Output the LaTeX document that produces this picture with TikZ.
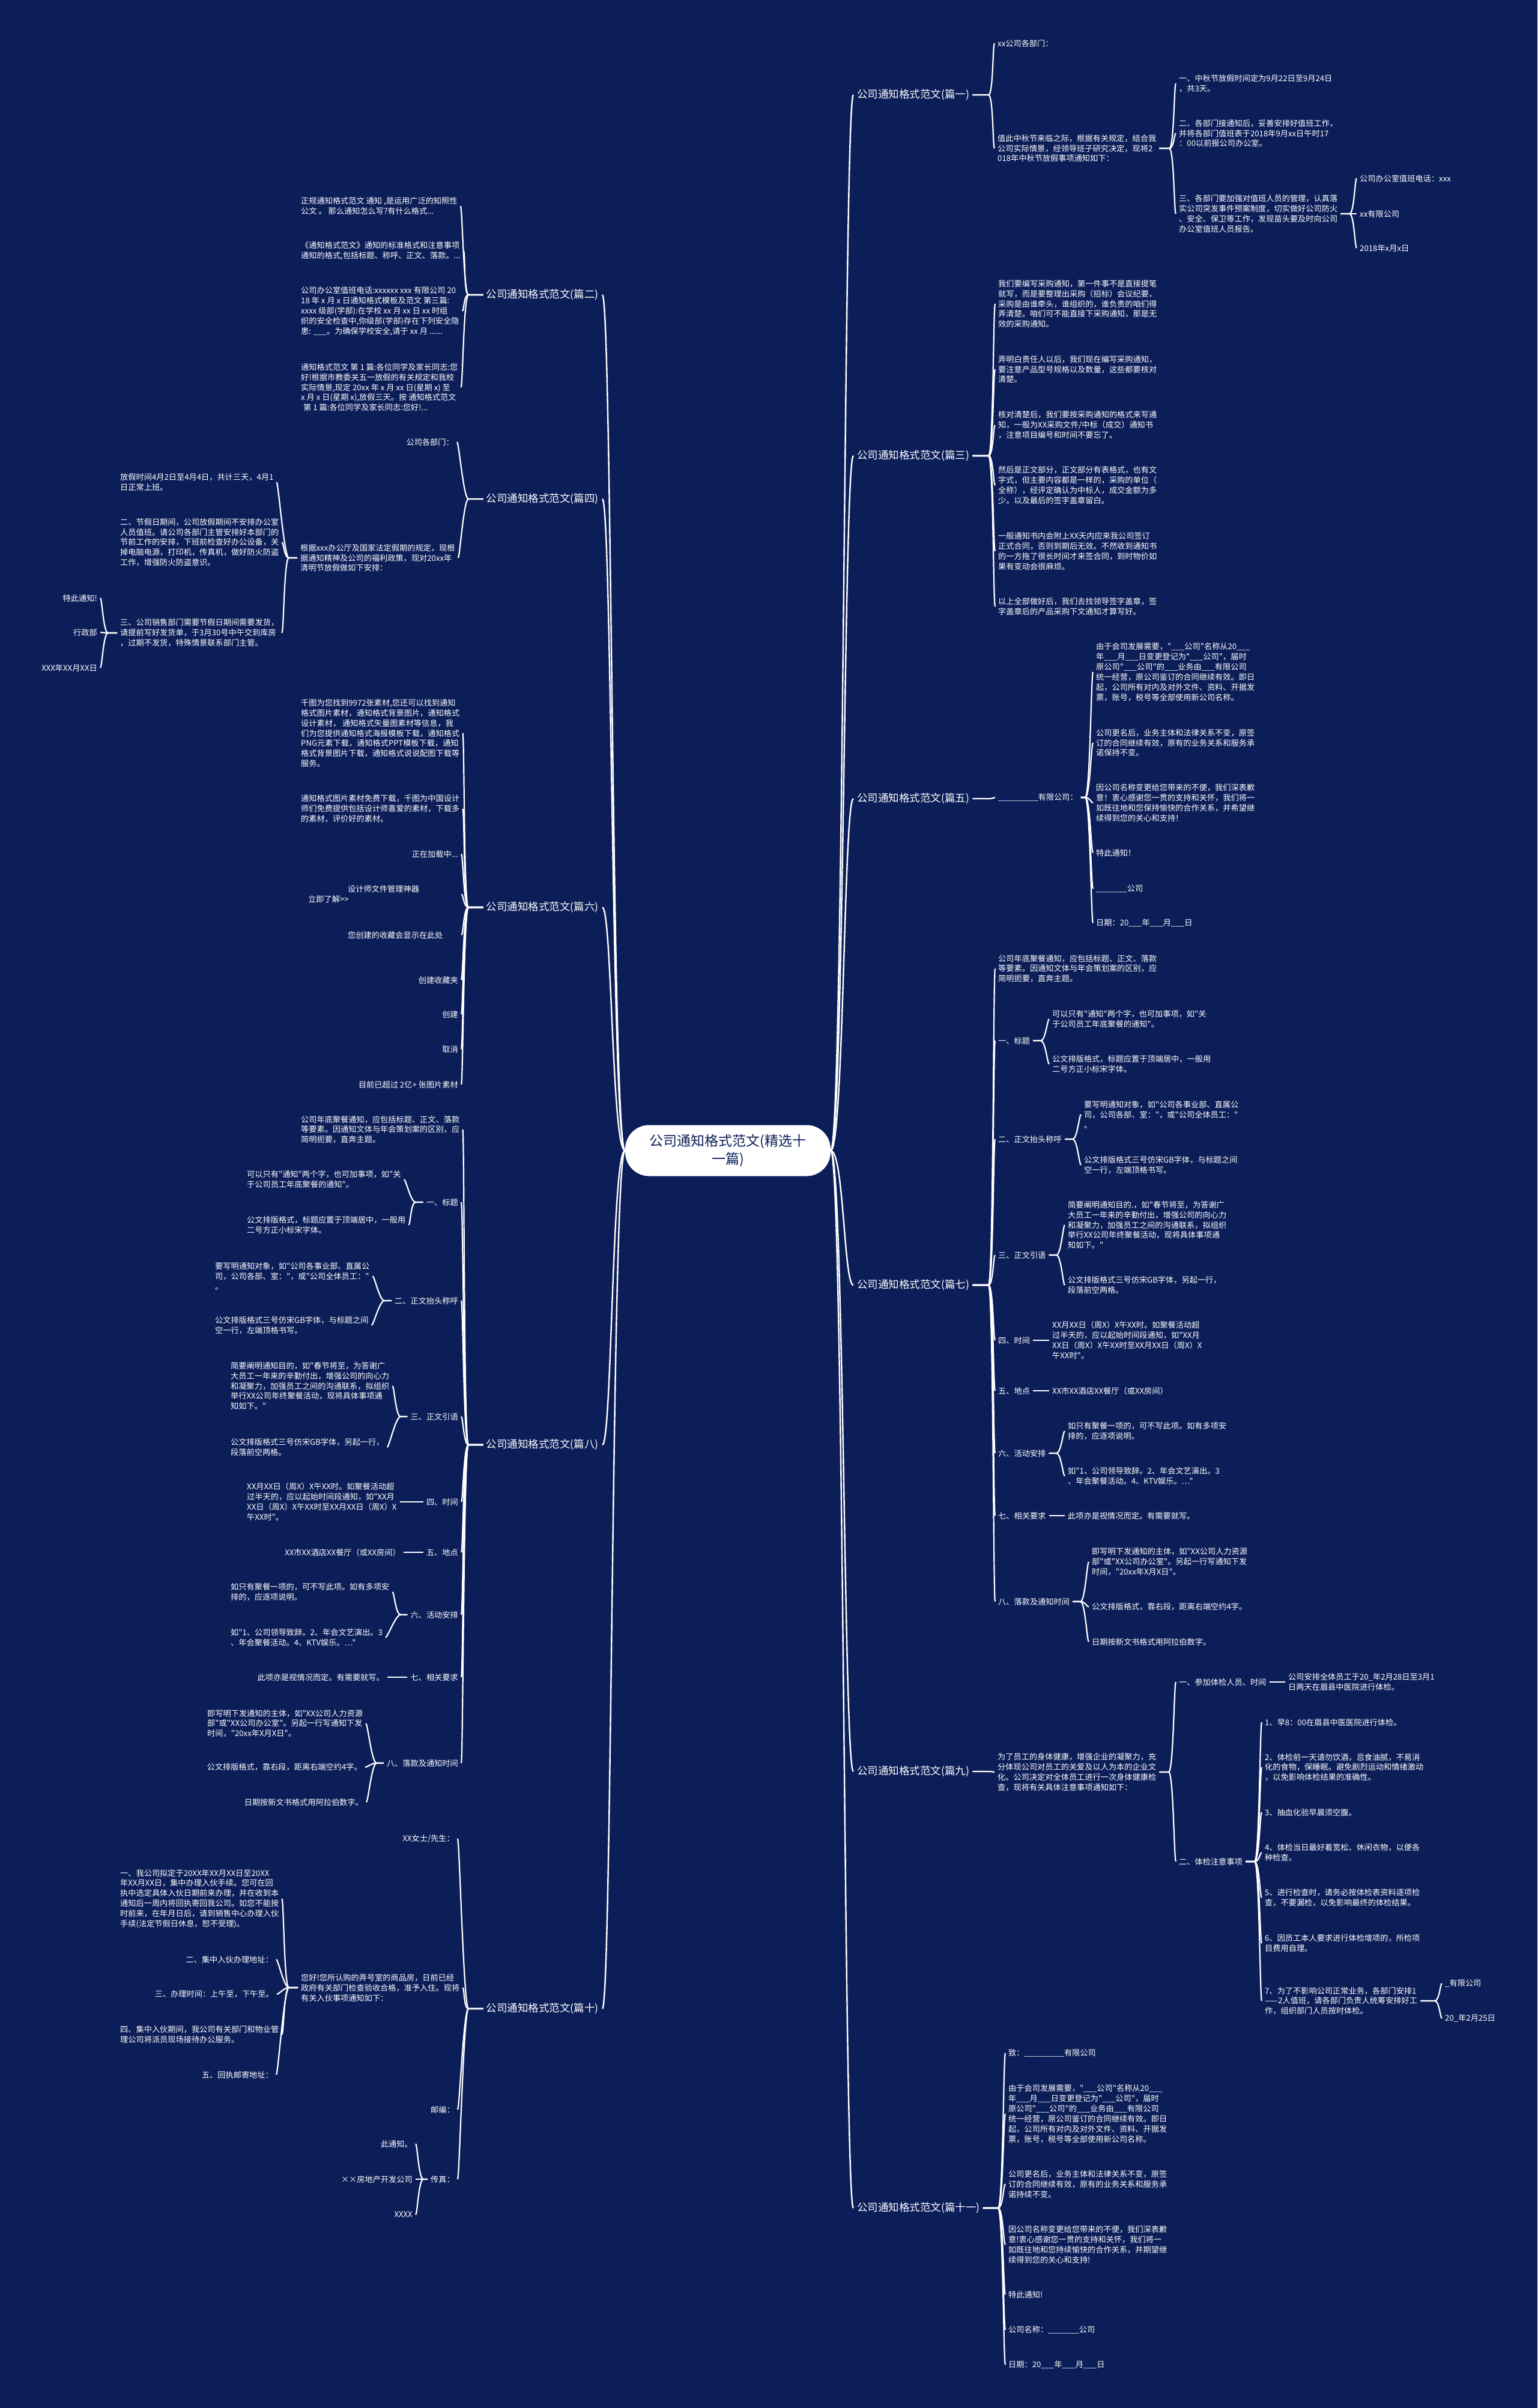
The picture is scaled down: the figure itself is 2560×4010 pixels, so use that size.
\documentclass[tikz,border=0pt]{standalone}
\usepackage{fontspec}
\newfontfamily\nf{Noto Sans CJK SC}
\definecolor{bgc}{RGB}{12,30,88}
\newcommand\rcon[3]{\draw[conn] (#1.east) -- (#1.east -| #3,0) .. controls +(8,0) and +(-8,0) .. (#2.west);}
\newcommand\lcon[3]{\draw[conn] (#1.west) -- (#1.west -| #3,0) .. controls +(-8,0) and +(8,0) .. (#2.east);}
\tikzset{
 txt/.style={font=\nf\fontsize{13.2}{16.9}\selectfont, text=white, inner sep=0pt, align=left},
 lbl/.style={font=\nf\fontsize{17.5}{21}\selectfont, text=white, inner sep=0pt},
 conn/.style={draw=white, line width=2.2pt, shorten <=5pt, shorten >=5pt},
 trunk/.style={draw=white, line width=2.4pt, shorten >=6pt},
 rootbox/.style={fill=white, text=bgc, rounded corners=40pt, minimum width=342pt, minimum height=85pt, align=center, inner sep=0pt, font=\nf\fontsize{23}{30}\selectfont}
}
\begin{document}
\begin{tikzpicture}[x=1pt,y=-1pt]
\fill[bgc] (0,0) rectangle (2560,4010);
\useasboundingbox (0,0) rectangle (2560,4010);

\node[rootbox] (root) at (1212,1916) {公司通知格式范文(精选十\\一篇)};

% ---------- right labels
\node[lbl,anchor=west] (s1) at (1427,158) {公司通知格式范文(篇一)};
\node[lbl,anchor=west] (s3) at (1427,759) {公司通知格式范文(篇三)};
\node[lbl,anchor=west] (s5) at (1427,1330) {公司通知格式范文(篇五)};
\node[lbl,anchor=west] (s7) at (1427,2140) {公司通知格式范文(篇七)};
\node[lbl,anchor=west] (s9) at (1427,2950) {公司通知格式范文(篇九)};
\node[lbl,anchor=west] (s11) at (1427,3677) {公司通知格式范文(篇十一)};
% ---------- left labels
\node[lbl,anchor=east] (s2) at (997,491) {公司通知格式范文(篇二)};
\node[lbl,anchor=east] (s4) at (997,831) {公司通知格式范文(篇四)};
\node[lbl,anchor=east] (s6) at (997,1511) {公司通知格式范文(篇六)};
\node[lbl,anchor=east] (s8) at (997,2406) {公司通知格式范文(篇八)};
\node[lbl,anchor=east] (s10) at (997,3345) {公司通知格式范文(篇十)};

\foreach \n in {s1,s3,s5,s7,s9,s11} \draw[trunk] (root.east) .. controls +(22,0) and +(-22,0) .. (\n.west);
\foreach \n in {s2,s4,s6,s8,s10} \draw[trunk] (root.west) .. controls +(-22,0) and +(22,0) .. (\n.east);

% ================= Section 1
\node[txt,anchor=west] (s1a) at (1661,72) {xx公司各部门：};
\node[txt,anchor=west] (s1b) at (1661,247) {值此中秋节来临之际，根据有关规定，结合我\\公司实际情景，经领导班子研究决定，现将2\\018年中秋节放假事项通知如下：};
\node[txt,anchor=west] (s1b1) at (1963,139) {一、中秋节放假时间定为9月22日至9月24日\\，共3天。};
\node[txt,anchor=west] (s1b2) at (1963,222) {二、各部门接通知后，妥善安排好值班工作，\\并将各部门值班表于2018年9月xx日午时17\\：00以前报公司办公室。};
\node[txt,anchor=west] (s1b3) at (1963,356) {三、各部门要加强对值班人员的管理，认真落\\实公司突发事件预案制度，切实做好公司防火\\、安全、保卫等工作，发现苗头要及时向公司\\办公室值班人员报告。};
\node[txt,anchor=west] (s1c1) at (2264,297) {公司办公室值班电话：xxx};
\node[txt,anchor=west] (s1c2) at (2264,356) {xx有限公司};
\node[txt,anchor=west] (s1c3) at (2264,413) {2018年x月x日};
\foreach \c in {s1a,s1b} {\rcon{s1}{\c}{1646}}
\foreach \c in {s1b1,s1b2,s1b3} {\rcon{s1b}{\c}{1947}}
\foreach \c in {s1c1,s1c2,s1c3} {\rcon{s1b3}{\c}{2247}}

% ================= Section 3
\node[txt,anchor=west] (s3a) at (1662,506) {我们要编写采购通知，第一件事不是直接提笔\\就写，而是要整理出采购（招标）会议纪要，\\采购是由谁牵头，谁组织的，谁负责的咱们得\\弄清楚。咱们可不能直接下采购通知，那是无\\效的采购通知。};
\node[txt,anchor=west] (s3b) at (1662,615) {弄明白责任人以后，我们现在编写采购通知，\\要注意产品型号规格以及数量，这些都要核对\\清楚。};
\node[txt,anchor=west] (s3c) at (1662,708) {核对清楚后，我们要按采购通知的格式来写通\\知，一般为XX采购文件/中标（成交）通知书\\，注意项目编号和时间不要忘了。};
\node[txt,anchor=west] (s3d) at (1662,808) {然后是正文部分，正文部分有表格式，也有文\\字式，但主要内容都是一样的，采购的单位（\\全称），经评定确认为中标人，成交金额为多\\少。以及最后的签字盖章留白。};
\node[txt,anchor=west] (s3e) at (1662,918) {一般通知书内会附上XX天内应来我公司签订\\正式合同，否则到期后无效。不然收到通知书\\的一方拖了很长时间才来签合同，到时物价如\\果有变动会很麻烦。};
\node[txt,anchor=west] (s3f) at (1662,1010) {以上全部做好后，我们去找领导签字盖章，签\\字盖章后的产品采购下文通知才算写好。};
\foreach \c in {s3a,s3b,s3c,s3d,s3e,s3f} {\rcon{s3}{\c}{1646}}

% ================= Section 5
\node[txt,anchor=west] (s5a) at (1662,1328) {\_\_\_\_\_\_\_\_\_有限公司：};
\node[txt,anchor=west] (s5b1) at (1825,1119) {由于会司发展需要，"\_\_\_公司"名称从20\_\_\_\\年\_\_\_月\_\_\_日变更登记为"\_\_\_公司"，届时\\原公司"\_\_\_公司"的\_\_\_业务由\_\_\_有限公司\\统一经营，原公司鉴订的合同继续有效。即日\\起，公司所有对内及对外文件、资料、开据发\\票，账号，税号等全部使用新公司名称。};
\node[txt,anchor=west] (s5b2) at (1825,1237) {公司更名后，业务主体和法律关系不变，原签\\订的合同继续有效，原有的业务关系和服务承\\诺保持不变。};
\node[txt,anchor=west] (s5b3) at (1825,1337) {因公司名称变更给您带来的不便，我们深表歉\\意！衷心感谢您一贯的支持和关怀，我们将一\\如既往地和您保持愉快的合作关系，并希望继\\续得到您的关心和支持！};
\node[txt,anchor=west] (s5b4) at (1825,1420) {特此通知！};
\node[txt,anchor=west] (s5b5) at (1825,1480) {\_\_\_\_\_\_\_公司};
\node[txt,anchor=west] (s5b6) at (1825,1537) {日期：20\_\_\_年\_\_\_月\_\_\_日};
\rcon{s5}{s5a}{1646}
\foreach \c in {s5b1,s5b2,s5b3,s5b4,s5b5,s5b6} {\rcon{s5a}{\c}{1807}}

% ================= Section 7
\node[txt,anchor=west] (s7a) at (1662,1613) {公司年底聚餐通知，应包括标题、正文、落款\\等要素。因通知文体与年会策划案的区别，应\\简明扼要，直奔主题。};
\node[txt,anchor=west] (s7b) at (1662,1733) {一、标题};
\node[txt,anchor=west] (s7b1) at (1752,1697) {可以只有"通知"两个字，也可加事项，如"关\\于公司员工年底聚餐的通知"。};
\node[txt,anchor=west] (s7b2) at (1752,1772) {公文排版格式，标题应置于顶端居中，一般用\\二号方正小标宋字体。};
\node[txt,anchor=west] (s7c) at (1662,1897) {二、正文抬头称呼};
\node[txt,anchor=west] (s7c1) at (1805,1856) {要写明通知对象，如"公司各事业部、直属公\\司，公司各部、室："，或"公司全体员工："\\。};
\node[txt,anchor=west] (s7c2) at (1805,1940) {公文排版格式三号仿宋GB字体，与标题之间\\空一行，左端顶格书写。};
\node[txt,anchor=west] (s7d) at (1662,2090) {三、正文引语};
\node[txt,anchor=west] (s7d1) at (1778,2040) {简要阐明通知目的.，如"春节将至，为答谢广\\大员工一年来的辛勤付出，增强公司的向心力\\和凝聚力，加强员工之间的沟通联系，拟组织\\举行XX公司年终聚餐活动，现将具体事项通\\知如下。"};
\node[txt,anchor=west] (s7d2) at (1778,2140) {公文排版格式三号仿宋GB字体，另起一行，\\段落前空两格。};
\node[txt,anchor=west] (s7e) at (1662,2232) {四、时间};
\node[txt,anchor=west] (s7e1) at (1752,2232) {XX月XX日（周X）X午XX时。如聚餐活动超\\过半天的，应以起始时间段通知，如"XX月\\XX日（周X）X午XX时至XX月XX日（周X）X\\午XX时"。};
\node[txt,anchor=west] (s7f) at (1662,2316) {五、地点};
\node[txt,anchor=west] (s7f1) at (1752,2316) {XX市XX酒店XX餐厅（或XX房间）};
\node[txt,anchor=west] (s7g) at (1662,2420) {六、活动安排};
\node[txt,anchor=west] (s7g1) at (1778,2383) {如只有聚餐一项的，可不写此项。如有多项安\\排的，应逐项说明。};
\node[txt,anchor=west] (s7g2) at (1778,2458) {如"1、公司领导致辞。2、年会文艺演出。3\\、年会聚餐活动。4、KTV娱乐。…"};
\node[txt,anchor=west] (s7h) at (1662,2524) {七、相关要求};
\node[txt,anchor=west] (s7h1) at (1778,2524) {此项亦是视情况而定。有需要就写。};
\node[txt,anchor=west] (s7i) at (1662,2667) {八、落款及通知时间};
\node[txt,anchor=west] (s7i1) at (1818,2601) {即写明下发通知的主体，如"XX公司人力资源\\部"或"XX公司办公室"。另起一行写通知下发\\时间，"20xx年X月X日"。};
\node[txt,anchor=west] (s7i2) at (1818,2676) {公文排版格式，靠右段，距离右端空约4字。};
\node[txt,anchor=west] (s7i3) at (1818,2734) {日期按新文书格式用阿拉伯数字。};
\foreach \c in {s7a,s7b,s7c,s7d,s7e,s7f,s7g,s7h,s7i} {\rcon{s7}{\c}{1646}}
\foreach \c in {s7b1,s7b2} {\rcon{s7b}{\c}{1733}}
\foreach \c in {s7c1,s7c2} {\rcon{s7c}{\c}{1786}}
\foreach \c in {s7d1,s7d2} {\rcon{s7d}{\c}{1759}}
\rcon{s7e}{s7e1}{1740}
\rcon{s7f}{s7f1}{1740}
\foreach \c in {s7g1,s7g2} {\rcon{s7g}{\c}{1759}}
\rcon{s7h}{s7h1}{1765}
\foreach \c in {s7i1,s7i2,s7i3} {\rcon{s7i}{\c}{1799}}

% ================= Section 9
\node[txt,anchor=west] (s9a) at (1661,2951) {为了员工的身体健康，增强企业的凝聚力，充\\分体现公司对员工的关爱及以人为本的企业文\\化。公司决定对全体员工进行一次身体健康检\\查，现将有关具体注意事项通知如下：};
\node[txt,anchor=west] (s9b) at (1963,2801) {一、参加体检人员、时间};
\node[txt,anchor=west] (s9b1) at (2145,2801) {公司安排全体员工于20\_年2月28日至3月1\\日两天在眉县中医院进行体检。};
\node[txt,anchor=west] (s9c) at (1963,3100) {二、体检注意事项};
\node[txt,anchor=west] (s9c1) at (2106,2868) {1、早8：00在眉县中医医院进行体检。};
\node[txt,anchor=west] (s9c2) at (2106,2943) {2、体检前一天请勿饮酒，忌食油腻，不易消\\化的食物，保睡眠。避免剧烈运动和情绪激动\\，以免影响体检结果的准确性。};
\node[txt,anchor=west] (s9c3) at (2106,3018) {3、抽血化验早晨须空腹。};
\node[txt,anchor=west] (s9c4) at (2106,3085) {4、体检当日最好着宽松、休闲衣物，以便各\\种检查。};
\node[txt,anchor=west] (s9c5) at (2106,3160) {5、进行检查时，请务必按体检表资料逐项检\\查，不要漏检，以免影响最终的体检结果。};
\node[txt,anchor=west] (s9c6) at (2106,3236) {6、因员工本人要求进行体检增项的，所检项\\目费用自理。};
\node[txt,anchor=west] (s9c7) at (2106,3332) {7、为了不影响公司正常业务，各部门安排1\\——2人值班，请各部门负责人统筹安排好工\\作，组织部门人员按时体检。};
\node[txt,anchor=west] (s9d1) at (2406,3303) {\_有限公司};
\node[txt,anchor=west] (s9d2) at (2406,3361) {20\_年2月25日};
\rcon{s9}{s9a}{1646}
\foreach \c in {s9b,s9c} {\rcon{s9a}{\c}{1946}}
\rcon{s9b}{s9b1}{2130}
\foreach \c in {s9c1,s9c2,s9c3,s9c4,s9c5,s9c6,s9c7} {\rcon{s9c}{\c}{2089}}
\foreach \c in {s9d1,s9d2} {\rcon{s9c7}{\c}{2389}}

% ================= Section 11
\node[txt,anchor=west] (s11a) at (1679,3419) {致：\_\_\_\_\_\_\_\_\_有限公司};
\node[txt,anchor=west] (s11b) at (1679,3520) {由于会司发展需要，"\_\_\_公司"名称从20\_\_\_\\年\_\_\_月\_\_\_日变更登记为"\_\_\_公司"，届时\\原公司"\_\_\_公司"的\_\_\_业务由\_\_\_有限公司\\统一经营，原公司鉴订的合同继续有效。即日\\起，公司所有对内及对外文件、资料、开据发\\票，账号，税号等全部使用新公司名称。};
\node[txt,anchor=west] (s11c) at (1679,3637) {公司更名后，业务主体和法律关系不变，原签\\订的合同继续有效，原有的业务关系和服务承\\诺持续不变。};
\node[txt,anchor=west] (s11d) at (1679,3738) {因公司名称变更给您带来的不便，我们深表歉\\意!衷心感谢您一贯的支持和关怀，我们将一\\如既往地和您持续愉快的合作关系，并期望继\\续得到您的关心和支持!};
\node[txt,anchor=west] (s11e) at (1679,3821) {特此通知!};
\node[txt,anchor=west] (s11f) at (1679,3880) {公司名称：\_\_\_\_\_\_\_公司};
\node[txt,anchor=west] (s11g) at (1679,3938) {日期：20\_\_\_年\_\_\_月\_\_\_日};
\foreach \c in {s11a,s11b,s11c,s11d,s11e,s11f,s11g} {\rcon{s11}{\c}{1662}}

% ================= Section 2
\node[txt,anchor=west] (s2a) at (501,343) {正规通知格式范文 通知 ,是运用广泛的知照性\\公文 。 那么通知怎么写?有什么格式...};
\node[txt,anchor=west] (s2b) at (501,418) {《通知格式范文》通知的标准格式和注意事项\\通知的格式,包括标题、称呼、正文、落款。...};
\node[txt,anchor=west] (s2c) at (501,518) {公司办公室值班电话:xxxxxx xxx 有限公司 20\\18 年 x 月 x 日通知格式模板及范文 第三篇:\\xxxx 级部(学部):在学校 xx 月 xx 日 xx 时组\\织的安全检查中,你级部(学部)存在下列安全隐\\患: \_\_\_。为确保学校安全,请于 xx 月 ......};
\node[txt,anchor=west] (s2d) at (501,645) {通知格式范文 第 1 篇:各位同学及家长同志:您\\好!根据市教委关五一放假的有关规定和我校\\实际情景,现定 20xx 年 x 月 xx 日(星期 x) 至\\x 月 x 日(星期 x),放假三天。按 通知格式范文\\\hspace*{4pt}第 1 篇:各位同学及家长同志:您好!...};
\foreach \c in {s2a,s2b,s2c,s2d} {\lcon{s2}{\c}{780}}

% ================= Section 4
\node[txt,anchor=east] (s4a) at (756,736) {公司各部门：};
\node[txt,anchor=west] (s4b) at (500,929) {根据xxx办公厅及国家法定假期的规定，现根\\据通知精神及公司的福利政策，现对20xx年\\清明节放假做如下安排：};
\node[txt,anchor=west] (s4b1) at (200,803) {放假时间4月2日至4月4日，共计三天，4月1\\日正常上班。};
\node[txt,anchor=west] (s4b2) at (200,903) {二、节假日期间，公司放假期间不安排办公室\\人员值班。请公司各部门主管安排好本部门的\\节前工作的安排，下班前检查好办公设备，关\\掉电脑电源，打印机，传真机，做好防火防盗\\工作，增强防火防盗意识。};
\node[txt,anchor=west] (s4b3) at (200,1054) {三、公司销售部门需要节假日期间需要发货，\\请提前写好发货单，于3月30号中午交到库房\\，过期不发货，特殊情景联系部门主管。};
\node[txt,anchor=east] (s4c1) at (162,996) {特此通知!};
\node[txt,anchor=east] (s4c2) at (162,1053) {行政部};
\node[txt,anchor=east] (s4c3) at (162,1112) {XXX年XX月XX日};
\foreach \c in {s4a,s4b} {\lcon{s4}{\c}{780}}
\foreach \c in {s4b1,s4b2,s4b3} {\lcon{s4b}{\c}{481}}
\foreach \c in {s4c1,s4c2,s4c3} {\lcon{s4b3}{\c}{180}}

% ================= Section 6
\node[txt,anchor=west] (s6a) at (501,1221) {千图为您找到9972张素材,您还可以找到通知\\格式图片素材，通知格式背景图片，通知格式\\设计素材， 通知格式矢量图素材等信息，我\\们为您提供通知格式海报模板下载，通知格式\\PNG元素下载，通知格式PPT模板下载，通知\\格式背景图片下载，通知格式说说配图下载等\\服务。};
\node[txt,anchor=west] (s6b) at (501,1347) {通知格式图片素材免费下载，千图为中国设计\\师们免费提供包括设计师喜爱的素材，下载多\\的素材，评价好的素材。};
\node[txt,anchor=east] (s6c) at (763,1422) {正在加载中...};
\node[txt,anchor=west,text width=250pt] (s6d) at (513,1489) {\hspace*{66pt}设计师文件管理神器\\立即了解>\kern0pt>};
\node[txt,anchor=west,text width=184pt] (s6e) at (579,1557) {您创建的收藏会显示在此处};
\node[txt,anchor=east] (s6f) at (763,1632) {创建收藏夹};
\node[txt,anchor=east] (s6g) at (763,1689) {创建};
\node[txt,anchor=east] (s6h) at (763,1747) {取消};
\node[txt,anchor=east] (s6i) at (763,1806) {目前已超过 2亿+ 张图片素材};
\foreach \c in {s6a,s6b,s6c,s6d,s6e,s6f,s6g,s6h,s6i} {\lcon{s6}{\c}{780}}

% ================= Section 8
\node[txt,anchor=west] (s8a) at (501,1881) {公司年底聚餐通知，应包括标题、正文、落款\\等要素。因通知文体与年会策划案的区别，应\\简明扼要，直奔主题。};
\node[txt,anchor=east] (s8b) at (763,2002) {一、标题};
\node[txt,anchor=west] (s8b1) at (411,1964) {可以只有"通知"两个字，也可加事项，如"关\\于公司员工年底聚餐的通知"。};
\node[txt,anchor=west] (s8b2) at (411,2040) {公文排版格式，标题应置于顶端居中，一般用\\二号方正小标宋字体。};
\node[txt,anchor=east] (s8c) at (763,2166) {二、正文抬头称呼};
\node[txt,anchor=west] (s8c1) at (358,2125) {要写明通知对象，如"公司各事业部、直属公\\司，公司各部、室："，或"公司全体员工："\\。};
\node[txt,anchor=west] (s8c2) at (358,2207) {公文排版格式三号仿宋GB字体，与标题之间\\空一行，左端顶格书写。};
\node[txt,anchor=east] (s8d) at (763,2359) {三、正文引语};
\node[txt,anchor=west] (s8d1) at (384,2308) {简要阐明通知目的，如"春节将至，为答谢广\\大员工一年来的辛勤付出，增强公司的向心力\\和凝聚力，加强员工之间的沟通联系，拟组织\\举行XX公司年终聚餐活动，现将具体事项通\\知如下。"};
\node[txt,anchor=west] (s8d2) at (384,2410) {公文排版格式三号仿宋GB字体，另起一行，\\段落前空两格。};
\node[txt,anchor=east] (s8e) at (763,2501) {四、时间};
\node[txt,anchor=west] (s8e1) at (411,2501) {XX月XX日（周X）X午XX时。如聚餐活动超\\过半天的，应以起始时间段通知，如"XX月\\XX日（周X）X午XX时至XX月XX日（周X）X\\午XX时"。};
\node[txt,anchor=east] (s8f) at (763,2585) {五、地点};
\node[txt,anchor=east] (s8f1) at (667,2585) {XX市XX酒店XX餐厅（或XX房间）};
\node[txt,anchor=east] (s8g) at (763,2689) {六、活动安排};
\node[txt,anchor=west] (s8g1) at (384,2651) {如只有聚餐一项的，可不写此项。如有多项安\\排的，应逐项说明。};
\node[txt,anchor=west] (s8g2) at (384,2727) {如"1、公司领导致辞。2、年会文艺演出。3\\、年会聚餐活动。4、KTV娱乐。…"};
\node[txt,anchor=east] (s8h) at (763,2793) {七、相关要求};
\node[txt,anchor=east] (s8h1) at (640,2793) {此项亦是视情况而定。有需要就写。};
\node[txt,anchor=east] (s8i) at (763,2936) {八、落款及通知时间};
\node[txt,anchor=west] (s8i1) at (345,2870) {即写明下发通知的主体，如"XX公司人力资源\\部"或"XX公司办公室"。另起一行写通知下发\\时间，"20xx年X月X日"。};
\node[txt,anchor=east] (s8i2) at (603,2943) {公文排版格式，靠右段，距离右端空约4字。};
\node[txt,anchor=east] (s8i3) at (605,3001) {日期按新文书格式用阿拉伯数字。};
\foreach \c in {s8a,s8b,s8c,s8d,s8e,s8f,s8g,s8h,s8i} {\lcon{s8}{\c}{780}}
\foreach \c in {s8b1,s8b2} {\lcon{s8b}{\c}{692}}
\foreach \c in {s8c1,s8c2} {\lcon{s8c}{\c}{640}}
\foreach \c in {s8d1,s8d2} {\lcon{s8d}{\c}{667}}
\lcon{s8e}{s8e1}{690}
\lcon{s8f}{s8f1}{690}
\foreach \c in {s8g1,s8g2} {\lcon{s8g}{\c}{667}}
\lcon{s8h}{s8h1}{660}
\foreach \c in {s8i1,s8i2,s8i3} {\lcon{s8i}{\c}{627}}

% ================= Section 10
\node[txt,anchor=east] (s10a) at (757,3062) {XX女士/先生：};
\node[txt,anchor=west] (s10b) at (501,3310) {您好!您所认购的弄号室的商品房，日前已经\\政府有关部门检查验收合格，准予入住。现将\\有关入伙事项通知如下：};
\node[txt,anchor=west] (s10b1) at (200,3162) {一、我公司拟定于20XX年XX月XX日至20XX\\年XX月XX日，集中办理入伙手续。您可在回\\执中选定具体入伙日期前来办理，并在收到本\\通知后一周内将回执寄回我公司。如您不能按\\时前来，在年月日后，请到销售中心办理入伙\\手续(法定节假日休息，恕不受理)。};
\node[txt,anchor=east] (s10b2) at (455,3263) {二、集中入伙办理地址：};
\node[txt,anchor=east] (s10b3) at (456,3321) {三、办理时间：上午至，下午至。};
\node[txt,anchor=west] (s10b4) at (200,3388) {四、集中入伙期间，我公司有关部门和物业管\\理公司将派员现场接待办公服务。};
\node[txt,anchor=east] (s10b5) at (455,3455) {五、回执邮寄地址：};
\node[txt,anchor=east] (s10c) at (757,3513) {邮编：};
\node[txt,anchor=east] (s10d) at (757,3629) {传真：};
\node[txt,anchor=east] (s10d1) at (687,3570) {此通知。};
\node[txt,anchor=east] (s10d2) at (687,3629) {××房地产开发公司};
\node[txt,anchor=east] (s10d3) at (687,3688) {XXXX};
\foreach \c in {s10a,s10b,s10c,s10d} {\lcon{s10}{\c}{780}}
\foreach \c in {s10b1,s10b2,s10b3,s10b4,s10b5} {\lcon{s10b}{\c}{481}}
\foreach \c in {s10d1,s10d2,s10d3} {\lcon{s10d}{\c}{705}}
\end{tikzpicture}
\end{document}
